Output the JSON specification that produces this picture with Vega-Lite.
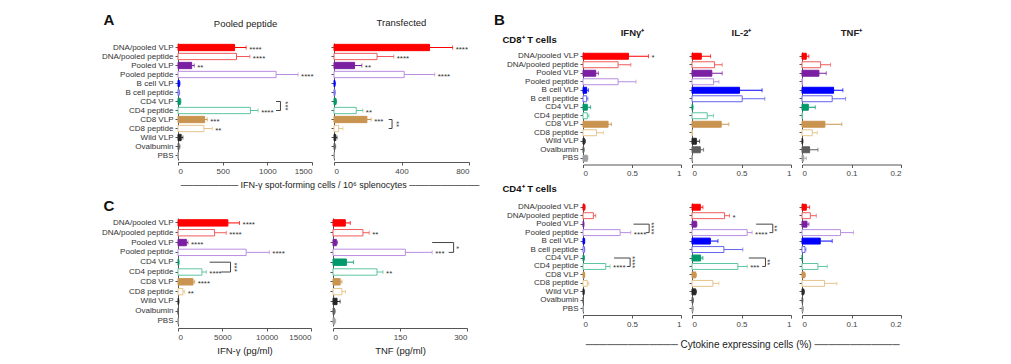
{
  "$schema": "https://vega.github.io/schema/vega-lite/v6.json",
  "background": "white",
  "padding": {"left": 101, "top": 12, "right": 5, "bottom": 5},
  "config": {
    "font": "Liberation Sans",
    "view": {"stroke": null},
    "axis": {"grid": false, "domainColor": "#555", "tickColor": "#555", "domainWidth": 1, "tickWidth": 1, "tickSize": 3, "labelFontSize": 8, "labelColor": "#444", "labelPadding": 2, "titleFontSize": 9.5, "titleFontWeight": "normal", "titleColor": "#222", "titlePadding": 4},
    "axisY": {"labelColor": "#333"}
  },
  "datasets": {
    "bars": [
      {"p":"pp","g":"DNA/pooled VLP","v":633,"e":763,"s":"****"},
      {"p":"pp","g":"DNA/pooled peptide","v":655,"e":804,"s":"****"},
      {"p":"pp","g":"Pooled VLP","v":153,"e":182,"s":"**"},
      {"p":"pp","g":"Pooled peptide","v":1098,"e":1344,"s":"****"},
      {"p":"pp","g":"B cell VLP","v":15,"e":22,"s":""},
      {"p":"pp","g":"B cell peptide","v":12,"e":18,"s":""},
      {"p":"pp","g":"CD4 VLP","v":25,"e":32,"s":""},
      {"p":"pp","g":"CD4 peptide","v":811,"e":897,"s":"****"},
      {"p":"pp","g":"CD8 VLP","v":298,"e":327,"s":"***"},
      {"p":"pp","g":"CD8 peptide","v":290,"e":383,"s":"**"},
      {"p":"pp","g":"Wild VLP","v":35,"e":55,"s":""},
      {"p":"pp","g":"Ovalbumin","v":12,"e":22,"s":""},
      {"p":"pp","g":"PBS","v":2,"e":4,"s":""},

      {"p":"tf","g":"DNA/pooled VLP","v":566,"e":703,"s":"****"},
      {"p":"tf","g":"DNA/pooled peptide","v":255,"e":354,"s":"****"},
      {"p":"tf","g":"Pooled VLP","v":122,"e":165,"s":"**"},
      {"p":"tf","g":"Pooled peptide","v":416,"e":597,"s":"****"},
      {"p":"tf","g":"B cell VLP","v":5,"e":8,"s":""},
      {"p":"tf","g":"B cell peptide","v":5,"e":7,"s":""},
      {"p":"tf","g":"CD4 VLP","v":12,"e":15,"s":""},
      {"p":"tf","g":"CD4 peptide","v":132,"e":171,"s":"**"},
      {"p":"tf","g":"CD8 VLP","v":195,"e":220,"s":"***"},
      {"p":"tf","g":"CD8 peptide","v":28,"e":53,"s":""},
      {"p":"tf","g":"Wild VLP","v":10,"e":18,"s":""},
      {"p":"tf","g":"Ovalbumin","v":6,"e":10,"s":""},
      {"p":"tf","g":"PBS","v":2,"e":3,"s":""},

      {"p":"ci","g":"DNA/pooled VLP","v":5625,"e":6940,"s":"****"},
      {"p":"ci","g":"DNA/pooled peptide","v":4125,"e":5440,"s":"****"},
      {"p":"ci","g":"Pooled VLP","v":940,"e":1125,"s":"****"},
      {"p":"ci","g":"Pooled peptide","v":7690,"e":10300,"s":"****"},
      {"p":"ci","g":"CD4 VLP","v":75,"e":120,"s":""},
      {"p":"ci","g":"CD4 peptide","v":2700,"e":3190,"s":"****"},
      {"p":"ci","g":"CD8 VLP","v":1690,"e":1875,"s":"****"},
      {"p":"ci","g":"CD8 peptide","v":560,"e":750,"s":"**"},
      {"p":"ci","g":"Wild VLP","v":60,"e":110,"s":""},
      {"p":"ci","g":"Ovalbumin","v":15,"e":30,"s":""},
      {"p":"ci","g":"PBS","v":10,"e":20,"s":""},

      {"p":"ct","g":"DNA/pooled VLP","v":27.6,"e":38.8,"s":""},
      {"p":"ct","g":"DNA/pooled peptide","v":67,"e":81,"s":"**"},
      {"p":"ct","g":"Pooled VLP","v":7.5,"e":10,"s":""},
      {"p":"ct","g":"Pooled peptide","v":162,"e":222,"s":"***"},
      {"p":"ct","g":"CD4 VLP","v":30,"e":46,"s":""},
      {"p":"ct","g":"CD4 peptide","v":98.5,"e":112,"s":"**"},
      {"p":"ct","g":"CD8 VLP","v":16,"e":20,"s":""},
      {"p":"ct","g":"CD8 peptide","v":20,"e":28,"s":""},
      {"p":"ct","g":"Wild VLP","v":9,"e":16,"s":""},
      {"p":"ct","g":"Ovalbumin","v":3,"e":5,"s":""},
      {"p":"ct","g":"PBS","v":4,"e":6,"s":""},

      {"p":"b8i","g":"DNA/pooled VLP","v":0.464,"e":0.669,"s":"*"},
      {"p":"b8i","g":"DNA/pooled peptide","v":0.358,"e":0.488,"s":""},
      {"p":"b8i","g":"Pooled VLP","v":0.13,"e":0.157,"s":""},
      {"p":"b8i","g":"Pooled peptide","v":0.358,"e":0.54,"s":""},
      {"p":"b8i","g":"B cell VLP","v":0.037,"e":0.055,"s":""},
      {"p":"b8i","g":"B cell peptide","v":0.037,"e":0.05,"s":""},
      {"p":"b8i","g":"CD4 VLP","v":0.044,"e":0.078,"s":""},
      {"p":"b8i","g":"CD4 peptide","v":0.044,"e":0.06,"s":""},
      {"p":"b8i","g":"CD8 VLP","v":0.256,"e":0.29,"s":""},
      {"p":"b8i","g":"CD8 peptide","v":0.137,"e":0.208,"s":""},
      {"p":"b8i","g":"Wild VLP","v":0.014,"e":0.025,"s":""},
      {"p":"b8i","g":"Ovalbumin","v":0.007,"e":0.012,"s":""},
      {"p":"b8i","g":"PBS","v":0.044,"e":0.05,"s":""},

      {"p":"b8l","g":"DNA/pooled VLP","v":0.094,"e":0.188,"s":""},
      {"p":"b8l","g":"DNA/pooled peptide","v":0.228,"e":0.305,"s":""},
      {"p":"b8l","g":"Pooled VLP","v":0.2,"e":0.305,"s":""},
      {"p":"b8l","g":"Pooled peptide","v":0.218,"e":0.272,"s":""},
      {"p":"b8l","g":"B cell VLP","v":0.48,"e":0.708,"s":""},
      {"p":"b8l","g":"B cell peptide","v":0.507,"e":0.735,"s":""},
      {"p":"b8l","g":"CD4 VLP","v":0.007,"e":0.01,"s":""},
      {"p":"b8l","g":"CD4 peptide","v":0.154,"e":0.218,"s":""},
      {"p":"b8l","g":"CD8 VLP","v":0.295,"e":0.372,"s":""},
      {"p":"b8l","g":"CD8 peptide","v":0.003,"e":0.004,"s":""},
      {"p":"b8l","g":"Wild VLP","v":0.044,"e":0.077,"s":""},
      {"p":"b8l","g":"Ovalbumin","v":0.084,"e":0.117,"s":""},
      {"p":"b8l","g":"PBS","v":0.002,"e":0.003,"s":""},

      {"p":"b8t","g":"DNA/pooled VLP","v":0.0087,"e":0.014,"s":""},
      {"p":"b8t","g":"DNA/pooled peptide","v":0.0376,"e":0.0577,"s":""},
      {"p":"b8t","g":"Pooled VLP","v":0.0342,"e":0.049,"s":""},
      {"p":"b8t","g":"Pooled peptide","v":0.001,"e":0.001,"s":""},
      {"p":"b8t","g":"B cell VLP","v":0.0638,"e":0.0826,"s":""},
      {"p":"b8t","g":"B cell peptide","v":0.061,"e":0.088,"s":""},
      {"p":"b8t","g":"CD4 VLP","v":0.0128,"e":0.0268,"s":""},
      {"p":"b8t","g":"CD4 peptide","v":0.001,"e":0.001,"s":""},
      {"p":"b8t","g":"CD8 VLP","v":0.0463,"e":0.0805,"s":""},
      {"p":"b8t","g":"CD8 peptide","v":0.0208,"e":0.031,"s":""},
      {"p":"b8t","g":"Wild VLP","v":0.001,"e":0.002,"s":""},
      {"p":"b8t","g":"Ovalbumin","v":0.0154,"e":0.0322,"s":""},
      {"p":"b8t","g":"PBS","v":0.0034,"e":0.0087,"s":""},

      {"p":"b4i","g":"DNA/pooled VLP","v":0.017,"e":0.022,"s":""},
      {"p":"b4i","g":"DNA/pooled peptide","v":0.106,"e":0.13,"s":""},
      {"p":"b4i","g":"Pooled VLP","v":0.007,"e":0.01,"s":""},
      {"p":"b4i","g":"Pooled peptide","v":0.379,"e":0.488,"s":"****"},
      {"p":"b4i","g":"B cell VLP","v":0.014,"e":0.018,"s":""},
      {"p":"b4i","g":"B cell peptide","v":0.014,"e":0.018,"s":""},
      {"p":"b4i","g":"CD4 VLP","v":0.01,"e":0.014,"s":""},
      {"p":"b4i","g":"CD4 peptide","v":0.232,"e":0.276,"s":"****"},
      {"p":"b4i","g":"CD8 VLP","v":0.014,"e":0.018,"s":""},
      {"p":"b4i","g":"CD8 peptide","v":0.044,"e":0.06,"s":""},
      {"p":"b4i","g":"Wild VLP","v":0.01,"e":0.013,"s":""},
      {"p":"b4i","g":"Ovalbumin","v":0.003,"e":0.005,"s":""},
      {"p":"b4i","g":"PBS","v":0.003,"e":0.005,"s":""},

      {"p":"b4l","g":"DNA/pooled VLP","v":0.084,"e":0.11,"s":""},
      {"p":"b4l","g":"DNA/pooled peptide","v":0.329,"e":0.379,"s":"*"},
      {"p":"b4l","g":"Pooled VLP","v":0.044,"e":0.05,"s":""},
      {"p":"b4l","g":"Pooled peptide","v":0.557,"e":0.607,"s":"****"},
      {"p":"b4l","g":"B cell VLP","v":0.185,"e":0.262,"s":""},
      {"p":"b4l","g":"B cell peptide","v":0.322,"e":0.513,"s":""},
      {"p":"b4l","g":"CD4 VLP","v":0.087,"e":0.11,"s":""},
      {"p":"b4l","g":"CD4 peptide","v":0.463,"e":0.557,"s":"***"},
      {"p":"b4l","g":"CD8 VLP","v":0.037,"e":0.045,"s":""},
      {"p":"b4l","g":"CD8 peptide","v":0.211,"e":0.272,"s":""},
      {"p":"b4l","g":"Wild VLP","v":0.037,"e":0.045,"s":""},
      {"p":"b4l","g":"Ovalbumin","v":0.01,"e":0.014,"s":""},
      {"p":"b4l","g":"PBS","v":0.01,"e":0.014,"s":""},

      {"p":"b4t","g":"DNA/pooled VLP","v":0.0087,"e":0.0154,"s":""},
      {"p":"b4t","g":"DNA/pooled peptide","v":0.0168,"e":0.0289,"s":""},
      {"p":"b4t","g":"Pooled VLP","v":0.0101,"e":0.014,"s":""},
      {"p":"b4t","g":"Pooled peptide","v":0.0779,"e":0.104,"s":""},
      {"p":"b4t","g":"B cell VLP","v":0.0369,"e":0.061,"s":""},
      {"p":"b4t","g":"B cell peptide","v":0.006,"e":0.008,"s":""},
      {"p":"b4t","g":"CD4 VLP","v":0.001,"e":0.001,"s":""},
      {"p":"b4t","g":"CD4 peptide","v":0.0322,"e":0.051,"s":""},
      {"p":"b4t","g":"CD8 VLP","v":0.0054,"e":0.007,"s":""},
      {"p":"b4t","g":"CD8 peptide","v":0.0456,"e":0.0705,"s":""},
      {"p":"b4t","g":"Wild VLP","v":0.0034,"e":0.005,"s":""},
      {"p":"b4t","g":"Ovalbumin","v":0.001,"e":0.002,"s":""},
      {"p":"b4t","g":"PBS","v":0.002,"e":0.003,"s":""}
    ],
    "br": [
      {"p":"pp","a":"CD4 VLP","b":"CD4 peptide","xa":1098,"xb":1098,"xr":1147,"xs":1222,"s":"***"},
      {"p":"tf","a":"CD8 VLP","b":"CD8 peptide","xa":324,"xb":324,"xr":344,"xs":381,"s":"**"},
      {"p":"ci","a":"CD4 VLP","b":"CD4 peptide","xa":3567,"xb":4875,"xr":5925,"xs":6490,"s":"***"},
      {"p":"ct","a":"Pooled VLP","b":"Pooled peptide","xa":222,"xb":259,"xr":270,"xs":279,"s":"*"},
      {"p":"b4i","a":"Pooled VLP","b":"Pooled peptide","xa":0.515,"xb":0.641,"xr":0.675,"xs":0.716,"s":"****"},
      {"p":"b4i","a":"CD4 VLP","b":"CD4 peptide","xa":0.317,"xb":0.447,"xr":0.481,"xs":0.522,"s":"****"},
      {"p":"b4l","a":"Pooled VLP","b":"Pooled peptide","xa":0.648,"xb":0.782,"xr":0.816,"xs":0.85,"s":"**"},
      {"p":"b4l","a":"CD4 VLP","b":"CD4 peptide","xa":0.574,"xb":0.709,"xr":0.742,"xs":0.775,"s":"**"}
    ]
  },
  "spacing": 13,
  "hconcat": [
    {
      "spacing": 8,
      "vconcat": [
        {
          "spacing": 16,
          "title": {"text": "─────────  IFN-γ spot-forming cells / 10⁶ splenocytes  ───────────", "orient": "bottom", "anchor": "end", "fontSize": 9, "fontWeight": "normal", "color": "#222", "offset": 6, "dx": 10},
          "hconcat": [
            {
              "width": 134, "height": 117,
              "resolve": {"axis": {"x": "independent"}},
              "layer": [
                {
                  "data": {"name": "bars"},
                  "transform": [{"filter": "datum.p === 'pp'"}],
                  "encoding": {
                    "y": {"field": "g", "type": "nominal", "scale": {"domain": ["DNA/pooled VLP","DNA/pooled peptide","Pooled VLP","Pooled peptide","B cell VLP","B cell peptide","CD4 VLP","CD4 peptide","CD8 VLP","CD8 peptide","Wild VLP","Ovalbumin","PBS"], "paddingInner": 0.3, "paddingOuter": 0.15},
                      "axis": {"title": "A", "titleAngle": 0, "titleAlign": "left", "titleBaseline": "middle", "titleX": -75, "titleY": -24, "titleFontSize": 15, "titleFontWeight": "bold", "titleColor": "#111"}},
                    "x": {"field": "v", "type": "quantitative", "scale": {"domain": [0, 1500], "nice": false}, "axis": {"values": [0, 500, 1000, 1500], "format": "d", "title": null, "offset": 2}},
                    "color": {"field": "g", "type": "nominal", "scale": {"domain": ["DNA/pooled VLP","DNA/pooled peptide","Pooled VLP","Pooled peptide","B cell VLP","B cell peptide","CD4 VLP","CD4 peptide","CD8 VLP","CD8 peptide","Wild VLP","Ovalbumin","PBS"], "range": ["#ff0000","#f05a5a","#7a1fa2","#b98de0","#0000ff","#6464ee","#00996b","#5cc6a0","#c9944f","#e6c48c","#262626","#5e5e5e","#a0a0a0"]}, "legend": null}
                  },
                  "layer": [
                    {"mark": {"type": "rule", "strokeWidth": 1}, "encoding": {"x2": {"field": "e"}}},
                    {"mark": {"type": "tick", "thickness": 1, "size": 4}, "encoding": {"x": {"field": "e", "type": "quantitative"}}},
                    {"mark": {"type": "bar", "strokeWidth": 1}, "encoding": {
                      "fill": {"field": "g", "type": "nominal", "scale": {"domain": ["DNA/pooled VLP","DNA/pooled peptide","Pooled VLP","Pooled peptide","B cell VLP","B cell peptide","CD4 VLP","CD4 peptide","CD8 VLP","CD8 peptide","Wild VLP","Ovalbumin","PBS"], "range": ["#ff0000","#ffffff","#7a1fa2","#ffffff","#0000ff","#ffffff","#00996b","#ffffff","#c9944f","#ffffff","#262626","#5e5e5e","#a0a0a0"]}, "legend": null},
                      "stroke": {"field": "g", "type": "nominal", "scale": {"domain": ["DNA/pooled VLP","DNA/pooled peptide","Pooled VLP","Pooled peptide","B cell VLP","B cell peptide","CD4 VLP","CD4 peptide","CD8 VLP","CD8 peptide","Wild VLP","Ovalbumin","PBS"], "range": ["#ff0000","#f05a5a","#7a1fa2","#b98de0","#0000ff","#6464ee","#00996b","#5cc6a0","#c9944f","#e6c48c","#262626","#5e5e5e","#a0a0a0"]}, "legend": null}}},
                    {"transform": [{"filter": "datum.s"}], "mark": {"type": "text", "align": "left", "baseline": "middle", "dx": 3, "dy": 2, "fontSize": 8}, "encoding": {"x": {"field": "e", "type": "quantitative"}, "text": {"field": "s"}, "color": {"value": "#333"}}}
                  ]
                },
                {
                  "data": {"name": "br"},
                  "transform": [{"filter": "datum.p === 'pp'"}],
                  "layer": [
                    {"mark": {"type": "rule", "color": "#444"}, "encoding": {"x": {"field": "xr", "type": "quantitative", "axis": {"orient": "top", "title": "Pooled peptide", "labels": false, "ticks": false, "domain": false, "titleX": 67, "titleY": -19.5, "titleAlign": "center", "titleBaseline": "middle", "titleFontSize": 9.5, "titleFontWeight": "normal", "titleColor": "#222"}}, "y": {"field": "a", "type": "nominal"}, "y2": {"field": "b"}}},
                    {"mark": {"type": "rule", "color": "#444"}, "encoding": {"x": {"field": "xa", "type": "quantitative"}, "x2": {"field": "xr"}, "y": {"field": "a", "type": "nominal"}}},
                    {"mark": {"type": "rule", "color": "#444"}, "encoding": {"x": {"field": "xb", "type": "quantitative"}, "x2": {"field": "xr"}, "y": {"field": "b", "type": "nominal"}}},
                    {"mark": {"type": "text", "angle": 90, "align": "center", "baseline": "middle", "dx": 4.5, "dy": 2, "fontSize": 8, "color": "#333"}, "encoding": {"x": {"field": "xs", "type": "quantitative"}, "y": {"field": "a", "type": "nominal"}, "text": {"field": "s"}}}
                  ]
                }
              ]
            },
            {
              "width": 135, "height": 117,
              "title": {"text": "Transfected", "fontSize": 9.5, "fontWeight": "normal", "color": "#222", "offset": 15.5},
              "layer": [
                {
                  "data": {"name": "bars"},
                  "transform": [{"filter": "datum.p === 'tf'"}],
                  "encoding": {
                    "y": {"field": "g", "type": "nominal", "scale": {"domain": ["DNA/pooled VLP","DNA/pooled peptide","Pooled VLP","Pooled peptide","B cell VLP","B cell peptide","CD4 VLP","CD4 peptide","CD8 VLP","CD8 peptide","Wild VLP","Ovalbumin","PBS"], "paddingInner": 0.3, "paddingOuter": 0.15}, "axis": {"labels": false, "title": null}},
                    "x": {"field": "v", "type": "quantitative", "scale": {"domain": [0, 800], "nice": false}, "axis": {"values": [0, 400, 800], "format": "d", "title": null, "offset": 2}},
                    "color": {"field": "g", "type": "nominal", "scale": {"domain": ["DNA/pooled VLP","DNA/pooled peptide","Pooled VLP","Pooled peptide","B cell VLP","B cell peptide","CD4 VLP","CD4 peptide","CD8 VLP","CD8 peptide","Wild VLP","Ovalbumin","PBS"], "range": ["#ff0000","#f05a5a","#7a1fa2","#b98de0","#0000ff","#6464ee","#00996b","#5cc6a0","#c9944f","#e6c48c","#262626","#5e5e5e","#a0a0a0"]}, "legend": null}
                  },
                  "layer": [
                    {"mark": {"type": "rule", "strokeWidth": 1}, "encoding": {"x2": {"field": "e"}}},
                    {"mark": {"type": "tick", "thickness": 1, "size": 4}, "encoding": {"x": {"field": "e", "type": "quantitative"}}},
                    {"mark": {"type": "bar", "strokeWidth": 1}, "encoding": {
                      "fill": {"field": "g", "type": "nominal", "scale": {"domain": ["DNA/pooled VLP","DNA/pooled peptide","Pooled VLP","Pooled peptide","B cell VLP","B cell peptide","CD4 VLP","CD4 peptide","CD8 VLP","CD8 peptide","Wild VLP","Ovalbumin","PBS"], "range": ["#ff0000","#ffffff","#7a1fa2","#ffffff","#0000ff","#ffffff","#00996b","#ffffff","#c9944f","#ffffff","#262626","#5e5e5e","#a0a0a0"]}, "legend": null},
                      "stroke": {"field": "g", "type": "nominal", "scale": {"domain": ["DNA/pooled VLP","DNA/pooled peptide","Pooled VLP","Pooled peptide","B cell VLP","B cell peptide","CD4 VLP","CD4 peptide","CD8 VLP","CD8 peptide","Wild VLP","Ovalbumin","PBS"], "range": ["#ff0000","#f05a5a","#7a1fa2","#b98de0","#0000ff","#6464ee","#00996b","#5cc6a0","#c9944f","#e6c48c","#262626","#5e5e5e","#a0a0a0"]}, "legend": null}}},
                    {"transform": [{"filter": "datum.s"}], "mark": {"type": "text", "align": "left", "baseline": "middle", "dx": 3, "dy": 2, "fontSize": 8}, "encoding": {"x": {"field": "e", "type": "quantitative"}, "text": {"field": "s"}, "color": {"value": "#333"}}}
                  ]
                },
                {
                  "data": {"name": "br"},
                  "transform": [{"filter": "datum.p === 'tf'"}],
                  "layer": [
                    {"mark": {"type": "rule", "color": "#444"}, "encoding": {"x": {"field": "xr", "type": "quantitative"}, "y": {"field": "a", "type": "nominal"}, "y2": {"field": "b"}}},
                    {"mark": {"type": "rule", "color": "#444"}, "encoding": {"x": {"field": "xa", "type": "quantitative"}, "x2": {"field": "xr"}, "y": {"field": "a", "type": "nominal"}}},
                    {"mark": {"type": "rule", "color": "#444"}, "encoding": {"x": {"field": "xb", "type": "quantitative"}, "x2": {"field": "xr"}, "y": {"field": "b", "type": "nominal"}}},
                    {"mark": {"type": "text", "angle": 90, "align": "center", "baseline": "middle", "dx": 4.5, "dy": 2, "fontSize": 8, "color": "#333"}, "encoding": {"x": {"field": "xs", "type": "quantitative"}, "y": {"field": "a", "type": "nominal"}, "text": {"field": "s"}}}
                  ]
                }
              ]
            }
          ]
        },
        {
          "spacing": 17,
          "hconcat": [
            {
              "width": 133, "height": 108,
              "layer": [
                {
                  "data": {"name": "bars"},
                  "transform": [{"filter": "datum.p === 'ci'"}],
                  "encoding": {
                    "y": {"field": "g", "type": "nominal", "scale": {"domain": ["DNA/pooled VLP","DNA/pooled peptide","Pooled VLP","Pooled peptide","CD4 VLP","CD4 peptide","CD8 VLP","CD8 peptide","Wild VLP","Ovalbumin","PBS"], "paddingInner": 0.35, "paddingOuter": 0.175},
                      "axis": {"title": "C", "titleAngle": 0, "titleAlign": "left", "titleBaseline": "middle", "titleX": -75, "titleY": -13, "titleFontSize": 15, "titleFontWeight": "bold", "titleColor": "#111"}},
                    "x": {"field": "v", "type": "quantitative", "scale": {"domain": [0, 15000], "nice": false}, "axis": {"values": [0, 5000, 10000, 15000], "format": "d", "title": "IFN-γ (pg/ml)", "offset": 2}},
                    "color": {"field": "g", "type": "nominal", "scale": {"domain": ["DNA/pooled VLP","DNA/pooled peptide","Pooled VLP","Pooled peptide","B cell VLP","B cell peptide","CD4 VLP","CD4 peptide","CD8 VLP","CD8 peptide","Wild VLP","Ovalbumin","PBS"], "range": ["#ff0000","#f05a5a","#7a1fa2","#b98de0","#0000ff","#6464ee","#00996b","#5cc6a0","#c9944f","#e6c48c","#262626","#5e5e5e","#a0a0a0"]}, "legend": null}
                  },
                  "layer": [
                    {"mark": {"type": "rule", "strokeWidth": 1}, "encoding": {"x2": {"field": "e"}}},
                    {"mark": {"type": "tick", "thickness": 1, "size": 4}, "encoding": {"x": {"field": "e", "type": "quantitative"}}},
                    {"mark": {"type": "bar", "strokeWidth": 1}, "encoding": {
                      "fill": {"field": "g", "type": "nominal", "scale": {"domain": ["DNA/pooled VLP","DNA/pooled peptide","Pooled VLP","Pooled peptide","B cell VLP","B cell peptide","CD4 VLP","CD4 peptide","CD8 VLP","CD8 peptide","Wild VLP","Ovalbumin","PBS"], "range": ["#ff0000","#ffffff","#7a1fa2","#ffffff","#0000ff","#ffffff","#00996b","#ffffff","#c9944f","#ffffff","#262626","#5e5e5e","#a0a0a0"]}, "legend": null},
                      "stroke": {"field": "g", "type": "nominal", "scale": {"domain": ["DNA/pooled VLP","DNA/pooled peptide","Pooled VLP","Pooled peptide","B cell VLP","B cell peptide","CD4 VLP","CD4 peptide","CD8 VLP","CD8 peptide","Wild VLP","Ovalbumin","PBS"], "range": ["#ff0000","#f05a5a","#7a1fa2","#b98de0","#0000ff","#6464ee","#00996b","#5cc6a0","#c9944f","#e6c48c","#262626","#5e5e5e","#a0a0a0"]}, "legend": null}}},
                    {"transform": [{"filter": "datum.s"}], "mark": {"type": "text", "align": "left", "baseline": "middle", "dx": 3, "dy": 2, "fontSize": 8}, "encoding": {"x": {"field": "e", "type": "quantitative"}, "text": {"field": "s"}, "color": {"value": "#333"}}}
                  ]
                },
                {
                  "data": {"name": "br"},
                  "transform": [{"filter": "datum.p === 'ci'"}],
                  "layer": [
                    {"mark": {"type": "rule", "color": "#444"}, "encoding": {"x": {"field": "xr", "type": "quantitative"}, "y": {"field": "a", "type": "nominal"}, "y2": {"field": "b"}}},
                    {"mark": {"type": "rule", "color": "#444"}, "encoding": {"x": {"field": "xa", "type": "quantitative"}, "x2": {"field": "xr"}, "y": {"field": "a", "type": "nominal"}}},
                    {"mark": {"type": "rule", "color": "#444"}, "encoding": {"x": {"field": "xb", "type": "quantitative"}, "x2": {"field": "xr"}, "y": {"field": "b", "type": "nominal"}}},
                    {"mark": {"type": "text", "angle": 90, "align": "center", "baseline": "middle", "dx": 4.9, "dy": 2, "fontSize": 8, "color": "#333"}, "encoding": {"x": {"field": "xs", "type": "quantitative"}, "y": {"field": "a", "type": "nominal"}, "text": {"field": "s"}}}
                  ]
                }
              ]
            },
            {
              "width": 134, "height": 108,
              "layer": [
                {
                  "data": {"name": "bars"},
                  "transform": [{"filter": "datum.p === 'ct'"}],
                  "encoding": {
                    "y": {"field": "g", "type": "nominal", "scale": {"domain": ["DNA/pooled VLP","DNA/pooled peptide","Pooled VLP","Pooled peptide","CD4 VLP","CD4 peptide","CD8 VLP","CD8 peptide","Wild VLP","Ovalbumin","PBS"], "paddingInner": 0.35, "paddingOuter": 0.175}, "axis": {"labels": false, "title": null}},
                    "x": {"field": "v", "type": "quantitative", "scale": {"domain": [0, 300], "nice": false}, "axis": {"values": [0, 150, 300], "format": "d", "title": "TNF (pg/ml)", "offset": 2}},
                    "color": {"field": "g", "type": "nominal", "scale": {"domain": ["DNA/pooled VLP","DNA/pooled peptide","Pooled VLP","Pooled peptide","B cell VLP","B cell peptide","CD4 VLP","CD4 peptide","CD8 VLP","CD8 peptide","Wild VLP","Ovalbumin","PBS"], "range": ["#ff0000","#f05a5a","#7a1fa2","#b98de0","#0000ff","#6464ee","#00996b","#5cc6a0","#c9944f","#e6c48c","#262626","#5e5e5e","#a0a0a0"]}, "legend": null}
                  },
                  "layer": [
                    {"mark": {"type": "rule", "strokeWidth": 1}, "encoding": {"x2": {"field": "e"}}},
                    {"mark": {"type": "tick", "thickness": 1, "size": 4}, "encoding": {"x": {"field": "e", "type": "quantitative"}}},
                    {"mark": {"type": "bar", "strokeWidth": 1}, "encoding": {
                      "fill": {"field": "g", "type": "nominal", "scale": {"domain": ["DNA/pooled VLP","DNA/pooled peptide","Pooled VLP","Pooled peptide","B cell VLP","B cell peptide","CD4 VLP","CD4 peptide","CD8 VLP","CD8 peptide","Wild VLP","Ovalbumin","PBS"], "range": ["#ff0000","#ffffff","#7a1fa2","#ffffff","#0000ff","#ffffff","#00996b","#ffffff","#c9944f","#ffffff","#262626","#5e5e5e","#a0a0a0"]}, "legend": null},
                      "stroke": {"field": "g", "type": "nominal", "scale": {"domain": ["DNA/pooled VLP","DNA/pooled peptide","Pooled VLP","Pooled peptide","B cell VLP","B cell peptide","CD4 VLP","CD4 peptide","CD8 VLP","CD8 peptide","Wild VLP","Ovalbumin","PBS"], "range": ["#ff0000","#f05a5a","#7a1fa2","#b98de0","#0000ff","#6464ee","#00996b","#5cc6a0","#c9944f","#e6c48c","#262626","#5e5e5e","#a0a0a0"]}, "legend": null}}},
                    {"transform": [{"filter": "datum.s"}], "mark": {"type": "text", "align": "left", "baseline": "middle", "dx": 3, "dy": 2, "fontSize": 8}, "encoding": {"x": {"field": "e", "type": "quantitative"}, "text": {"field": "s"}, "color": {"value": "#333"}}}
                  ]
                },
                {
                  "data": {"name": "br"},
                  "transform": [{"filter": "datum.p === 'ct'"}],
                  "layer": [
                    {"mark": {"type": "rule", "color": "#444"}, "encoding": {"x": {"field": "xr", "type": "quantitative"}, "y": {"field": "a", "type": "nominal"}, "y2": {"field": "b"}}},
                    {"mark": {"type": "rule", "color": "#444"}, "encoding": {"x": {"field": "xa", "type": "quantitative"}, "x2": {"field": "xr"}, "y": {"field": "a", "type": "nominal"}}},
                    {"mark": {"type": "rule", "color": "#444"}, "encoding": {"x": {"field": "xb", "type": "quantitative"}, "x2": {"field": "xr"}, "y": {"field": "b", "type": "nominal"}}},
                    {"mark": {"type": "text", "angle": 90, "align": "center", "baseline": "middle", "dx": 4.9, "dy": 2, "fontSize": 8, "color": "#333"}, "encoding": {"x": {"field": "xs", "type": "quantitative"}, "y": {"field": "a", "type": "nominal"}, "text": {"field": "s"}}}
                  ]
                }
              ]
            }
          ]
        }
      ]
    },
    {
      "spacing": 5,
      "vconcat": [
        {
          "spacing": 6,
          "hconcat": [
            {
              "width": 98, "height": 119.5,
              "data": {"name": "bars"},
              "transform": [{"filter": "datum.p === 'b8i'"}],
              "resolve": {"axis": {"x": "independent"}},
              "encoding": {
                "y": {"field": "g", "type": "nominal", "scale": {"domain": ["DNA/pooled VLP","DNA/pooled peptide","Pooled VLP","Pooled peptide","B cell VLP","B cell peptide","CD4 VLP","CD4 peptide","CD8 VLP","CD8 peptide","Wild VLP","Ovalbumin","PBS"], "range": [9, 119.5], "paddingInner": 0.3, "paddingOuter": 0.15},
                  "axis": {"title": "CD8⁺ T cells", "titleAngle": 0, "titleAlign": "left", "titleBaseline": "middle", "titleX": -81, "titleY": -4, "titleFontSize": 9.5, "titleFontWeight": "bold", "titleColor": "#111"}},
                "x": {"field": "v", "type": "quantitative", "scale": {"domain": [0, 1], "nice": false}, "axis": {"values": [0, 0.5, 1], "format": "~g", "offset": 2, "title": "B", "titleAngle": 0, "titleAlign": "left", "titleBaseline": "middle", "titleX": -89.5, "titleY": -145, "titleFontSize": 15, "titleFontWeight": "bold", "titleColor": "#111"}},
                "color": {"field": "g", "type": "nominal", "scale": {"domain": ["DNA/pooled VLP","DNA/pooled peptide","Pooled VLP","Pooled peptide","B cell VLP","B cell peptide","CD4 VLP","CD4 peptide","CD8 VLP","CD8 peptide","Wild VLP","Ovalbumin","PBS"], "range": ["#ff0000","#f05a5a","#7a1fa2","#b98de0","#0000ff","#6464ee","#00996b","#5cc6a0","#c9944f","#e6c48c","#262626","#5e5e5e","#a0a0a0"]}, "legend": null}
              },
              "layer": [
                {
                  "layer": [
                    {"mark": {"type": "rule", "strokeWidth": 1}, "encoding": {"x2": {"field": "e"}}},
                    {"mark": {"type": "tick", "thickness": 1, "size": 4}, "encoding": {"x": {"field": "e", "type": "quantitative"}}},
                    {"mark": {"type": "bar", "strokeWidth": 1}, "encoding": {
                      "fill": {"field": "g", "type": "nominal", "scale": {"domain": ["DNA/pooled VLP","DNA/pooled peptide","Pooled VLP","Pooled peptide","B cell VLP","B cell peptide","CD4 VLP","CD4 peptide","CD8 VLP","CD8 peptide","Wild VLP","Ovalbumin","PBS"], "range": ["#ff0000","#ffffff","#7a1fa2","#ffffff","#0000ff","#ffffff","#00996b","#ffffff","#c9944f","#ffffff","#262626","#5e5e5e","#a0a0a0"]}, "legend": null},
                      "stroke": {"field": "g", "type": "nominal", "scale": {"domain": ["DNA/pooled VLP","DNA/pooled peptide","Pooled VLP","Pooled peptide","B cell VLP","B cell peptide","CD4 VLP","CD4 peptide","CD8 VLP","CD8 peptide","Wild VLP","Ovalbumin","PBS"], "range": ["#ff0000","#f05a5a","#7a1fa2","#b98de0","#0000ff","#6464ee","#00996b","#5cc6a0","#c9944f","#e6c48c","#262626","#5e5e5e","#a0a0a0"]}, "legend": null}}}
                  ]
                },
                {"transform": [{"filter": "datum.s"}], "mark": {"type": "text", "align": "left", "baseline": "middle", "dx": 3, "dy": 2, "fontSize": 8}, "encoding": {"x": {"field": "e", "type": "quantitative", "axis": {"orient": "top", "title": "IFNγ⁺", "labels": false, "ticks": false, "domain": false, "titleX": 49, "titleY": -11, "titleAlign": "center", "titleBaseline": "middle", "titleFontSize": 9.5, "titleFontWeight": "bold", "titleColor": "#222"}}, "text": {"field": "s"}, "color": {"value": "#333"}}}
              ]
            },
            {
              "width": 99, "height": 119.5,
              "title": {"text": "IL-2⁺", "fontSize": 9.5, "fontWeight": "bold", "color": "#222", "offset": 6},
              "data": {"name": "bars"},
              "transform": [{"filter": "datum.p === 'b8l'"}],
              "encoding": {
                "y": {"field": "g", "type": "nominal", "scale": {"domain": ["DNA/pooled VLP","DNA/pooled peptide","Pooled VLP","Pooled peptide","B cell VLP","B cell peptide","CD4 VLP","CD4 peptide","CD8 VLP","CD8 peptide","Wild VLP","Ovalbumin","PBS"], "range": [9, 119.5], "paddingInner": 0.3, "paddingOuter": 0.15}, "axis": {"labels": false, "title": null}},
                "x": {"field": "v", "type": "quantitative", "scale": {"domain": [0, 1], "nice": false}, "axis": {"values": [0, 0.5, 1], "format": "~g", "title": null, "offset": 2}},
                "color": {"field": "g", "type": "nominal", "scale": {"domain": ["DNA/pooled VLP","DNA/pooled peptide","Pooled VLP","Pooled peptide","B cell VLP","B cell peptide","CD4 VLP","CD4 peptide","CD8 VLP","CD8 peptide","Wild VLP","Ovalbumin","PBS"], "range": ["#ff0000","#f05a5a","#7a1fa2","#b98de0","#0000ff","#6464ee","#00996b","#5cc6a0","#c9944f","#e6c48c","#262626","#5e5e5e","#a0a0a0"]}, "legend": null}
              },
              "layer": [
                {"mark": {"type": "rule", "strokeWidth": 1}, "encoding": {"x2": {"field": "e"}}},
                {"mark": {"type": "tick", "thickness": 1, "size": 4}, "encoding": {"x": {"field": "e", "type": "quantitative"}}},
                {"mark": {"type": "bar", "strokeWidth": 1}, "encoding": {
                  "fill": {"field": "g", "type": "nominal", "scale": {"domain": ["DNA/pooled VLP","DNA/pooled peptide","Pooled VLP","Pooled peptide","B cell VLP","B cell peptide","CD4 VLP","CD4 peptide","CD8 VLP","CD8 peptide","Wild VLP","Ovalbumin","PBS"], "range": ["#ff0000","#ffffff","#7a1fa2","#ffffff","#0000ff","#ffffff","#00996b","#ffffff","#c9944f","#ffffff","#262626","#5e5e5e","#a0a0a0"]}, "legend": null},
                  "stroke": {"field": "g", "type": "nominal", "scale": {"domain": ["DNA/pooled VLP","DNA/pooled peptide","Pooled VLP","Pooled peptide","B cell VLP","B cell peptide","CD4 VLP","CD4 peptide","CD8 VLP","CD8 peptide","Wild VLP","Ovalbumin","PBS"], "range": ["#ff0000","#f05a5a","#7a1fa2","#b98de0","#0000ff","#6464ee","#00996b","#5cc6a0","#c9944f","#e6c48c","#262626","#5e5e5e","#a0a0a0"]}, "legend": null}}}
              ]
            },
            {
              "width": 99, "height": 119.5,
              "title": {"text": "TNF⁺", "fontSize": 9.5, "fontWeight": "bold", "color": "#222", "offset": 6},
              "data": {"name": "bars"},
              "transform": [{"filter": "datum.p === 'b8t'"}],
              "encoding": {
                "y": {"field": "g", "type": "nominal", "scale": {"domain": ["DNA/pooled VLP","DNA/pooled peptide","Pooled VLP","Pooled peptide","B cell VLP","B cell peptide","CD4 VLP","CD4 peptide","CD8 VLP","CD8 peptide","Wild VLP","Ovalbumin","PBS"], "range": [9, 119.5], "paddingInner": 0.3, "paddingOuter": 0.15}, "axis": {"labels": false, "title": null}},
                "x": {"field": "v", "type": "quantitative", "scale": {"domain": [0, 0.2], "nice": false}, "axis": {"values": [0, 0.1, 0.2], "format": "~g", "title": null, "offset": 2}},
                "color": {"field": "g", "type": "nominal", "scale": {"domain": ["DNA/pooled VLP","DNA/pooled peptide","Pooled VLP","Pooled peptide","B cell VLP","B cell peptide","CD4 VLP","CD4 peptide","CD8 VLP","CD8 peptide","Wild VLP","Ovalbumin","PBS"], "range": ["#ff0000","#f05a5a","#7a1fa2","#b98de0","#0000ff","#6464ee","#00996b","#5cc6a0","#c9944f","#e6c48c","#262626","#5e5e5e","#a0a0a0"]}, "legend": null}
              },
              "layer": [
                {"mark": {"type": "rule", "strokeWidth": 1}, "encoding": {"x2": {"field": "e"}}},
                {"mark": {"type": "tick", "thickness": 1, "size": 4}, "encoding": {"x": {"field": "e", "type": "quantitative"}}},
                {"mark": {"type": "bar", "strokeWidth": 1}, "encoding": {
                  "fill": {"field": "g", "type": "nominal", "scale": {"domain": ["DNA/pooled VLP","DNA/pooled peptide","Pooled VLP","Pooled peptide","B cell VLP","B cell peptide","CD4 VLP","CD4 peptide","CD8 VLP","CD8 peptide","Wild VLP","Ovalbumin","PBS"], "range": ["#ff0000","#ffffff","#7a1fa2","#ffffff","#0000ff","#ffffff","#00996b","#ffffff","#c9944f","#ffffff","#262626","#5e5e5e","#a0a0a0"]}, "legend": null},
                  "stroke": {"field": "g", "type": "nominal", "scale": {"domain": ["DNA/pooled VLP","DNA/pooled peptide","Pooled VLP","Pooled peptide","B cell VLP","B cell peptide","CD4 VLP","CD4 peptide","CD8 VLP","CD8 peptide","Wild VLP","Ovalbumin","PBS"], "range": ["#ff0000","#f05a5a","#7a1fa2","#b98de0","#0000ff","#6464ee","#00996b","#5cc6a0","#c9944f","#e6c48c","#262626","#5e5e5e","#a0a0a0"]}, "legend": null}}}
              ]
            }
          ]
        },
        {
          "spacing": 6,
          "title": {"text": "─────────────  Cytokine expressing cells (%)  ────────────", "orient": "bottom", "anchor": "end", "fontSize": 10, "fontWeight": "normal", "color": "#222", "offset": 12, "dx": -2},
          "hconcat": [
            {
              "width": 98, "height": 110,
              "layer": [
                {
                  "data": {"name": "bars"},
                  "transform": [{"filter": "datum.p === 'b4i'"}],
                  "encoding": {
                    "y": {"field": "g", "type": "nominal", "scale": {"domain": ["DNA/pooled VLP","DNA/pooled peptide","Pooled VLP","Pooled peptide","B cell VLP","B cell peptide","CD4 VLP","CD4 peptide","CD8 VLP","CD8 peptide","Wild VLP","Ovalbumin","PBS"], "paddingInner": 0.3, "paddingOuter": 0.15},
                      "axis": {"title": "CD4⁺ T cells", "titleAngle": 0, "titleAlign": "left", "titleBaseline": "middle", "titleX": -81, "titleY": -15, "titleFontSize": 9.5, "titleFontWeight": "bold", "titleColor": "#111"}},
                    "x": {"field": "v", "type": "quantitative", "scale": {"domain": [0, 1], "nice": false}, "axis": {"values": [0, 0.5, 1], "format": "~g", "title": null, "offset": 2}},
                    "color": {"field": "g", "type": "nominal", "scale": {"domain": ["DNA/pooled VLP","DNA/pooled peptide","Pooled VLP","Pooled peptide","B cell VLP","B cell peptide","CD4 VLP","CD4 peptide","CD8 VLP","CD8 peptide","Wild VLP","Ovalbumin","PBS"], "range": ["#ff0000","#f05a5a","#7a1fa2","#b98de0","#0000ff","#6464ee","#00996b","#5cc6a0","#c9944f","#e6c48c","#262626","#5e5e5e","#a0a0a0"]}, "legend": null}
                  },
                  "layer": [
                    {"mark": {"type": "rule", "strokeWidth": 1}, "encoding": {"x2": {"field": "e"}}},
                    {"mark": {"type": "tick", "thickness": 1, "size": 4}, "encoding": {"x": {"field": "e", "type": "quantitative"}}},
                    {"mark": {"type": "bar", "strokeWidth": 1}, "encoding": {
                      "fill": {"field": "g", "type": "nominal", "scale": {"domain": ["DNA/pooled VLP","DNA/pooled peptide","Pooled VLP","Pooled peptide","B cell VLP","B cell peptide","CD4 VLP","CD4 peptide","CD8 VLP","CD8 peptide","Wild VLP","Ovalbumin","PBS"], "range": ["#ff0000","#ffffff","#7a1fa2","#ffffff","#0000ff","#ffffff","#00996b","#ffffff","#c9944f","#ffffff","#262626","#5e5e5e","#a0a0a0"]}, "legend": null},
                      "stroke": {"field": "g", "type": "nominal", "scale": {"domain": ["DNA/pooled VLP","DNA/pooled peptide","Pooled VLP","Pooled peptide","B cell VLP","B cell peptide","CD4 VLP","CD4 peptide","CD8 VLP","CD8 peptide","Wild VLP","Ovalbumin","PBS"], "range": ["#ff0000","#f05a5a","#7a1fa2","#b98de0","#0000ff","#6464ee","#00996b","#5cc6a0","#c9944f","#e6c48c","#262626","#5e5e5e","#a0a0a0"]}, "legend": null}}},
                    {"transform": [{"filter": "datum.s"}], "mark": {"type": "text", "align": "left", "baseline": "middle", "dx": 3, "dy": 2, "fontSize": 8}, "encoding": {"x": {"field": "e", "type": "quantitative"}, "text": {"field": "s"}, "color": {"value": "#333"}}}
                  ]
                },
                {
                  "data": {"name": "br"},
                  "transform": [{"filter": "datum.p === 'b4i'"}],
                  "layer": [
                    {"mark": {"type": "rule", "color": "#444"}, "encoding": {"x": {"field": "xr", "type": "quantitative"}, "y": {"field": "a", "type": "nominal"}, "y2": {"field": "b"}}},
                    {"mark": {"type": "rule", "color": "#444"}, "encoding": {"x": {"field": "xa", "type": "quantitative"}, "x2": {"field": "xr"}, "y": {"field": "a", "type": "nominal"}}},
                    {"mark": {"type": "rule", "color": "#444"}, "encoding": {"x": {"field": "xb", "type": "quantitative"}, "x2": {"field": "xr"}, "y": {"field": "b", "type": "nominal"}}},
                    {"mark": {"type": "text", "angle": 90, "align": "center", "baseline": "middle", "dx": 4.25, "dy": 2, "fontSize": 8, "color": "#333"}, "encoding": {"x": {"field": "xs", "type": "quantitative"}, "y": {"field": "a", "type": "nominal"}, "text": {"field": "s"}}}
                  ]
                }
              ]
            },
            {
              "width": 99, "height": 110,
              "layer": [
                {
                  "data": {"name": "bars"},
                  "transform": [{"filter": "datum.p === 'b4l'"}],
                  "encoding": {
                    "y": {"field": "g", "type": "nominal", "scale": {"domain": ["DNA/pooled VLP","DNA/pooled peptide","Pooled VLP","Pooled peptide","B cell VLP","B cell peptide","CD4 VLP","CD4 peptide","CD8 VLP","CD8 peptide","Wild VLP","Ovalbumin","PBS"], "paddingInner": 0.3, "paddingOuter": 0.15}, "axis": {"labels": false, "title": null}},
                    "x": {"field": "v", "type": "quantitative", "scale": {"domain": [0, 1], "nice": false}, "axis": {"values": [0, 0.5, 1], "format": "~g", "title": null, "offset": 2}},
                    "color": {"field": "g", "type": "nominal", "scale": {"domain": ["DNA/pooled VLP","DNA/pooled peptide","Pooled VLP","Pooled peptide","B cell VLP","B cell peptide","CD4 VLP","CD4 peptide","CD8 VLP","CD8 peptide","Wild VLP","Ovalbumin","PBS"], "range": ["#ff0000","#f05a5a","#7a1fa2","#b98de0","#0000ff","#6464ee","#00996b","#5cc6a0","#c9944f","#e6c48c","#262626","#5e5e5e","#a0a0a0"]}, "legend": null}
                  },
                  "layer": [
                    {"mark": {"type": "rule", "strokeWidth": 1}, "encoding": {"x2": {"field": "e"}}},
                    {"mark": {"type": "tick", "thickness": 1, "size": 4}, "encoding": {"x": {"field": "e", "type": "quantitative"}}},
                    {"mark": {"type": "bar", "strokeWidth": 1}, "encoding": {
                      "fill": {"field": "g", "type": "nominal", "scale": {"domain": ["DNA/pooled VLP","DNA/pooled peptide","Pooled VLP","Pooled peptide","B cell VLP","B cell peptide","CD4 VLP","CD4 peptide","CD8 VLP","CD8 peptide","Wild VLP","Ovalbumin","PBS"], "range": ["#ff0000","#ffffff","#7a1fa2","#ffffff","#0000ff","#ffffff","#00996b","#ffffff","#c9944f","#ffffff","#262626","#5e5e5e","#a0a0a0"]}, "legend": null},
                      "stroke": {"field": "g", "type": "nominal", "scale": {"domain": ["DNA/pooled VLP","DNA/pooled peptide","Pooled VLP","Pooled peptide","B cell VLP","B cell peptide","CD4 VLP","CD4 peptide","CD8 VLP","CD8 peptide","Wild VLP","Ovalbumin","PBS"], "range": ["#ff0000","#f05a5a","#7a1fa2","#b98de0","#0000ff","#6464ee","#00996b","#5cc6a0","#c9944f","#e6c48c","#262626","#5e5e5e","#a0a0a0"]}, "legend": null}}},
                    {"transform": [{"filter": "datum.s"}], "mark": {"type": "text", "align": "left", "baseline": "middle", "dx": 3, "dy": 2, "fontSize": 8}, "encoding": {"x": {"field": "e", "type": "quantitative"}, "text": {"field": "s"}, "color": {"value": "#333"}}}
                  ]
                },
                {
                  "data": {"name": "br"},
                  "transform": [{"filter": "datum.p === 'b4l'"}],
                  "layer": [
                    {"mark": {"type": "rule", "color": "#444"}, "encoding": {"x": {"field": "xr", "type": "quantitative"}, "y": {"field": "a", "type": "nominal"}, "y2": {"field": "b"}}},
                    {"mark": {"type": "rule", "color": "#444"}, "encoding": {"x": {"field": "xa", "type": "quantitative"}, "x2": {"field": "xr"}, "y": {"field": "a", "type": "nominal"}}},
                    {"mark": {"type": "rule", "color": "#444"}, "encoding": {"x": {"field": "xb", "type": "quantitative"}, "x2": {"field": "xr"}, "y": {"field": "b", "type": "nominal"}}},
                    {"mark": {"type": "text", "angle": 90, "align": "center", "baseline": "middle", "dx": 4.25, "dy": 2, "fontSize": 8, "color": "#333"}, "encoding": {"x": {"field": "xs", "type": "quantitative"}, "y": {"field": "a", "type": "nominal"}, "text": {"field": "s"}}}
                  ]
                }
              ]
            },
            {
              "width": 99, "height": 110,
              "data": {"name": "bars"},
              "transform": [{"filter": "datum.p === 'b4t'"}],
              "encoding": {
                "y": {"field": "g", "type": "nominal", "scale": {"domain": ["DNA/pooled VLP","DNA/pooled peptide","Pooled VLP","Pooled peptide","B cell VLP","B cell peptide","CD4 VLP","CD4 peptide","CD8 VLP","CD8 peptide","Wild VLP","Ovalbumin","PBS"], "paddingInner": 0.3, "paddingOuter": 0.15}, "axis": {"labels": false, "title": null}},
                "x": {"field": "v", "type": "quantitative", "scale": {"domain": [0, 0.2], "nice": false}, "axis": {"values": [0, 0.1, 0.2], "format": "~g", "title": null, "offset": 2}},
                "color": {"field": "g", "type": "nominal", "scale": {"domain": ["DNA/pooled VLP","DNA/pooled peptide","Pooled VLP","Pooled peptide","B cell VLP","B cell peptide","CD4 VLP","CD4 peptide","CD8 VLP","CD8 peptide","Wild VLP","Ovalbumin","PBS"], "range": ["#ff0000","#f05a5a","#7a1fa2","#b98de0","#0000ff","#6464ee","#00996b","#5cc6a0","#c9944f","#e6c48c","#262626","#5e5e5e","#a0a0a0"]}, "legend": null}
              },
              "layer": [
                {"mark": {"type": "rule", "strokeWidth": 1}, "encoding": {"x2": {"field": "e"}}},
                {"mark": {"type": "tick", "thickness": 1, "size": 4}, "encoding": {"x": {"field": "e", "type": "quantitative"}}},
                {"mark": {"type": "bar", "strokeWidth": 1}, "encoding": {
                  "fill": {"field": "g", "type": "nominal", "scale": {"domain": ["DNA/pooled VLP","DNA/pooled peptide","Pooled VLP","Pooled peptide","B cell VLP","B cell peptide","CD4 VLP","CD4 peptide","CD8 VLP","CD8 peptide","Wild VLP","Ovalbumin","PBS"], "range": ["#ff0000","#ffffff","#7a1fa2","#ffffff","#0000ff","#ffffff","#00996b","#ffffff","#c9944f","#ffffff","#262626","#5e5e5e","#a0a0a0"]}, "legend": null},
                  "stroke": {"field": "g", "type": "nominal", "scale": {"domain": ["DNA/pooled VLP","DNA/pooled peptide","Pooled VLP","Pooled peptide","B cell VLP","B cell peptide","CD4 VLP","CD4 peptide","CD8 VLP","CD8 peptide","Wild VLP","Ovalbumin","PBS"], "range": ["#ff0000","#f05a5a","#7a1fa2","#b98de0","#0000ff","#6464ee","#00996b","#5cc6a0","#c9944f","#e6c48c","#262626","#5e5e5e","#a0a0a0"]}, "legend": null}}}
              ]
            }
          ]
        }
      ]
    }
  ]
}
